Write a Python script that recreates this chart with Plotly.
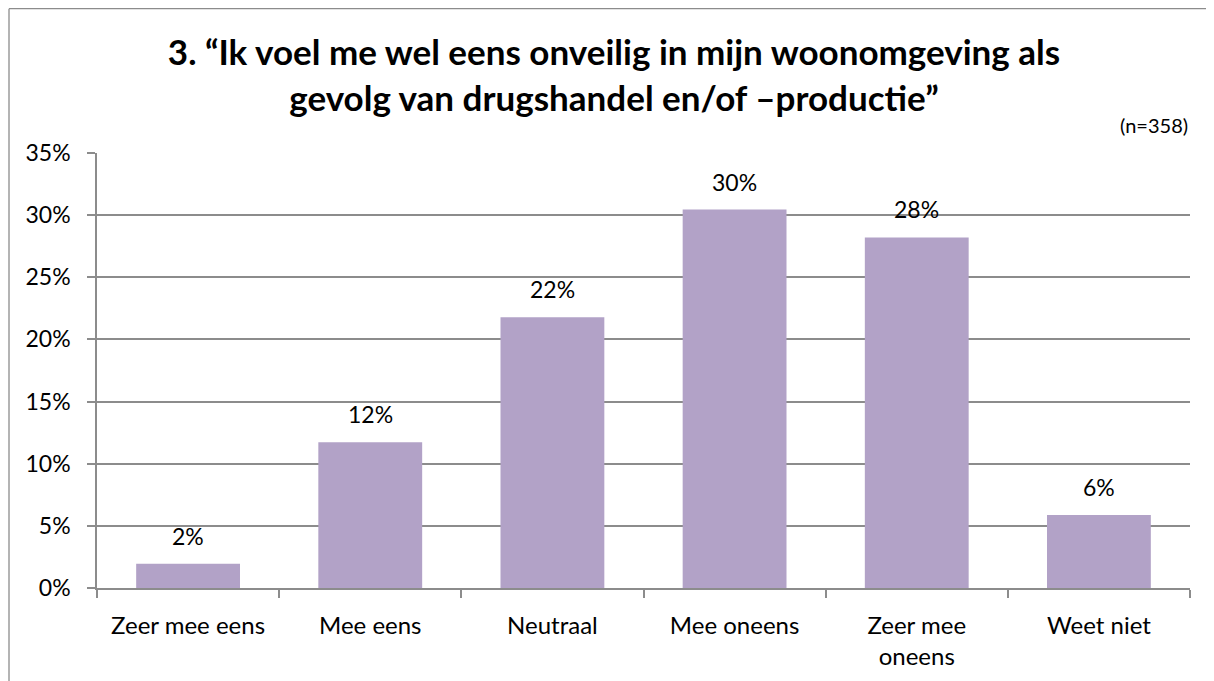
import plotly.graph_objects as go

categories = ["Zeer mee eens", "Mee eens", "Neutraal", "Mee oneens", "Zeer mee<br>oneens", "Weet niet"]
values = [0.0196, 0.1173, 0.2179, 0.3045, 0.2821, 0.0587]
y_ticks = [0, 0.05, 0.10, 0.15, 0.20, 0.25, 0.30, 0.35]
title_text = "<b>3. “Ik voel me wel eens onveilig in mijn woonomgeving als<br>gevolg van drugshandel en/of –productie”</b>"
n_text = "(n=358)"

FONT = "Lato"
# page body has an 8px margin, so the figure is drawn 8px right/down
W, H = 1206, 673
L, R, T, B = 89, 24, 145, 92.5
pw = W - L - R
ph = H - T - B

fig = go.Figure(go.Bar(
    x=categories, y=values,
    marker=dict(color="#B2A2C7", line=dict(width=0)),
    hoverinfo="x+y",
))

annotations = [
    dict(x=c, y=v, text=f"{v:.0%}", xref="x", yref="y", showarrow=False,
         yanchor="middle", yshift=28, font=dict(family=FONT, size=23, color="black"))
    for c, v in zip(categories, values)
]
annotations.append(dict(text=n_text, xref="paper", yref="paper", x=(1190 - 8 - L) / pw, y=1.033,
                        xanchor="right", yanchor="bottom", showarrow=False,
                        font=dict(family=FONT, size=20, color="black")))

frame_style = dict(color="#8C8C8C", width=1.3)
fig.update_layout(
    width=W, height=H,
    margin=dict(l=L, r=R, t=T, b=B, autoexpand=False),
    paper_bgcolor="white", plot_bgcolor="white",
    bargap=0.43,
    showlegend=False,
    font=dict(family=FONT, size=23, color="black"),
    title=dict(text=title_text, x=(606 - L) / pw, xref="paper", xanchor="center",
               y=1 - 57 / H, yref="container", yanchor="middle",
               font=dict(family=FONT, size=35, color="black")),
    annotations=annotations,
    shapes=[
        dict(type="line", xref="paper", yref="paper",
             x0=(1 - L) / pw, x1=(1 - L) / pw, y0=-(B + 40) / ph, y1=1 + (T - 0.5) / ph,
             line=frame_style),
        dict(type="line", xref="paper", yref="paper",
             x0=(1 - L) / pw, x1=(W + 40 - L) / pw, y0=1 + (T - 0.5) / ph, y1=1 + (T - 0.5) / ph,
             line=frame_style),
    ],
)
fig.update_xaxes(
    showline=True, linecolor="#8C8C8C", linewidth=1.5,
    ticks="outside", tickson="boundaries", ticklen=8, tickcolor="#8C8C8C", tickwidth=1.5,
    tickfont=dict(family=FONT, size=24), ticklabelstandoff=15,
    showgrid=False,
)
fig.update_yaxes(
    range=[0, 0.35], tickvals=y_ticks, tickformat=".0%",
    showline=True, linecolor="#8C8C8C", linewidth=1.5,
    ticks="outside", ticklen=8, tickcolor="#8C8C8C", tickwidth=1.5,
    showgrid=True, gridcolor="#8C8C8C", gridwidth=1.5,
    tickfont=dict(family=FONT, size=23), ticklabelstandoff=12,
    zeroline=False,
)
fig.write_html("out.html")
